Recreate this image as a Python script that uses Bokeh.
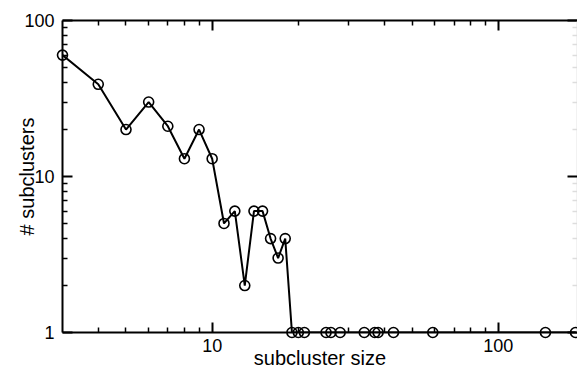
from bokeh.plotting import figure
from bokeh.models import Range1d, LogAxis, FixedTicker, PrintfTickFormatter
from bokeh.embed import file_html
from bokeh.resources import INLINE

# data
sizes = [3, 4, 5, 6, 7, 8, 9, 10, 11, 12, 13, 14, 15, 16, 17, 18,
         19, 20, 21, 25, 26, 28, 34, 37, 38, 43, 59, 146, 186]
counts = [60, 39, 20, 30, 21, 13, 20, 13, 5, 6, 2, 6, 6, 4, 3, 4,
          1, 1, 1, 1, 1, 1, 1, 1, 1, 1, 1, 1, 1]

x_major = [10, 100]
x_minor = [4, 5, 6, 7, 8, 9, 20, 30, 40, 50, 60, 70, 80, 90]
y_major = [1, 10, 100]
y_minor = [2, 3, 4, 5, 6, 7, 8, 9, 20, 30, 40, 50, 60, 70, 80, 90]

FONT = "Liberation Sans"

p = figure(width=577, height=371, x_axis_type="log", y_axis_type="log",
           x_range=Range1d(3, 189), y_range=Range1d(1, 100),
           output_backend="svg", toolbar_location=None,
           min_border_left=62, min_border_right=0, min_border_top=20,
           min_border_bottom=39)
p.xgrid.visible = False
p.ygrid.visible = False
p.outline_line_color = None
p.background_fill_color = "white"
p.border_fill_color = "white"


def style(ax, labels=True):
    ax.axis_line_width = 2
    ax.axis_line_color = "black"
    ax.major_tick_in = 10
    ax.major_tick_out = 0
    ax.minor_tick_in = 5
    ax.minor_tick_out = 0
    ax.major_tick_line_width = 2
    ax.minor_tick_line_width = 1.5
    ax.major_tick_line_color = "black"
    ax.minor_tick_line_color = "black"
    ax.formatter = PrintfTickFormatter(format="%d")
    if labels:
        ax.major_label_text_font = FONT
        ax.major_label_text_font_size = "18px"
        ax.major_label_text_color = "black"
        ax.axis_label_text_font = FONT
        ax.axis_label_text_font_size = "20px"
        ax.axis_label_text_font_style = "normal"
        ax.axis_label_text_color = "black"
    else:
        ax.major_label_text_font_size = "1px"
        ax.major_label_text_color = None
        ax.major_label_standoff = 0


xa = p.xaxis[0]
xa.ticker = FixedTicker(ticks=x_major, minor_ticks=x_minor)
style(xa)
xa.axis_label = "subcluster size"
xa.major_label_standoff = 6
xa.axis_label_standoff = -8

ya = p.yaxis[0]
ya.ticker = FixedTicker(ticks=y_major, minor_ticks=y_minor)
style(ya)
ya.axis_label = "# subclusters"
ya.major_label_standoff = 8
ya.axis_label_standoff = -17

top = LogAxis(ticker=FixedTicker(ticks=x_major, minor_ticks=x_minor))
style(top, labels=False)
p.add_layout(top, "above")

right = LogAxis(ticker=FixedTicker(ticks=y_major, minor_ticks=y_minor))
style(right, labels=False)
right.axis_line_color = "#e6e6e6"
right.minor_tick_line_color = "#dddddd"
p.add_layout(right, "right")

p.line(sizes, counts, line_color="black", line_width=2)
p.scatter(sizes, counts, marker="circle", size=10, fill_color=None,
          line_color="black", line_width=1.6, level="overlay")

open("out.html", "w").write(file_html(p, INLINE))
